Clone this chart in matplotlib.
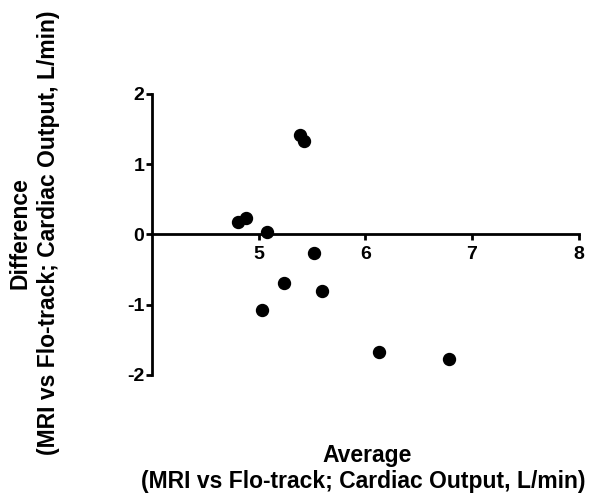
import matplotlib
matplotlib.use("Agg")
import matplotlib.pyplot as plt

plt.rcParams['font.family'] = ['Liberation Sans', 'DejaVu Sans']
plt.rcParams['font.weight'] = 'bold'
plt.rcParams['axes.unicode_minus'] = False

# Bland-Altman: average vs difference, cardiac output (L/min)
average = [5.39, 5.43, 4.81, 4.88, 5.08, 5.52, 5.24, 5.59, 5.03, 6.13, 6.78]
difference = [1.42, 1.33, 0.175, 0.24, 0.03, -0.26, -0.69, -0.80, -1.07, -1.67, -1.78]

x_ticks = [5, 6, 7, 8]
y_ticks = [-2, -1, 0, 1, 2]

fig = plt.figure(figsize=(5.93, 4.94), dpi=100)
ax = fig.add_axes([0.256, 0.241, 0.72, 0.569])

ax.plot(average, difference, 'o', color='black', markersize=8.6, clip_on=False)

ax.set_xlim(4, 8)
ax.set_ylim(-2, 2)
ax.set_xticks(x_ticks)
ax.set_yticks(y_ticks)

ax.spines['top'].set_visible(False)
ax.spines['right'].set_visible(False)
ax.spines['bottom'].set_position(('data', 0))
ax.spines['left'].set_linewidth(2)
ax.spines['bottom'].set_linewidth(2)
ax.tick_params(width=2, length=4.5, labelsize=14)
ax.tick_params(axis='y', pad=1)
ax.tick_params(axis='x', pad=4)

fig.text(0.034, 0.528, "Difference", rotation=90, ha='center', va='center',
         fontsize=16.5, fontweight='bold')
fig.text(0.082, 0.528, "(MRI vs Flo-track; Cardiac Output, L/min)", rotation=90,
         ha='center', va='center', fontsize=16.5, fontweight='bold')
fig.text(0.619, 0.077, "Average", ha='center', va='center',
         fontsize=16.5, fontweight='bold')
fig.text(0.612, 0.026, "(MRI vs Flo-track; Cardiac Output, L/min)", ha='center',
         va='center', fontsize=16.5, fontweight='bold')

fig.savefig("out.png", dpi=100)
